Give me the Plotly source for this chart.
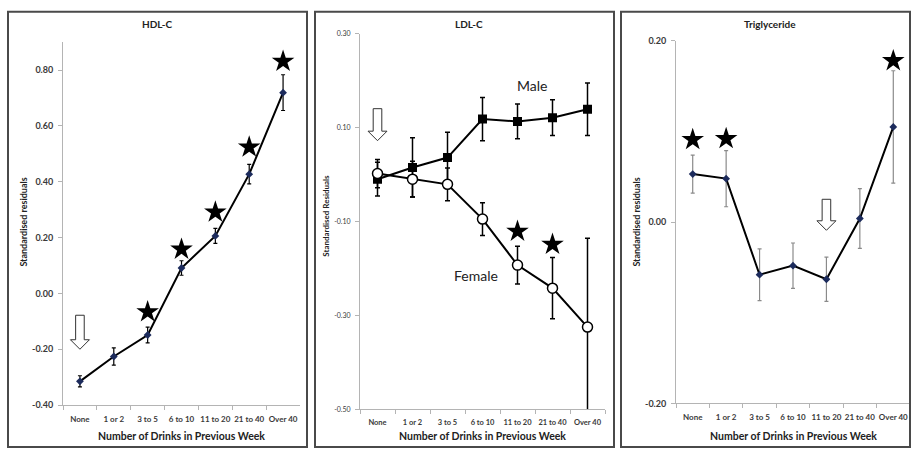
import plotly.graph_objects as go

categories = ["None", "1 or 2", "3 to 5", "6 to 10", "11 to 20", "21 to 40", "Over 40"]

# HDL-C
hdl_values = [-0.315, -0.226, -0.149, 0.091, 0.206, 0.427, 0.719]
hdl_errors = [0.020, 0.031, 0.028, 0.026, 0.027, 0.035, 0.064]
hdl_star_cats = ["3 to 5", "6 to 10", "11 to 20", "21 to 40", "Over 40"]
hdl_star_y = [-0.066, 0.158, 0.291, 0.524, 0.831]
hdl_arrow = ("None", -0.20)
hdl_ticks = [-0.4, -0.2, 0.0, 0.2, 0.4, 0.6, 0.8]
hdl_ticktext = ["-0.40", "-0.20", "0.00", "0.20", "0.40", "0.60", "0.80"]

# LDL-C
ldl_male = [-0.010, 0.015, 0.036, 0.118, 0.113, 0.121, 0.139]
ldl_male_err = [0.036, 0.063, 0.054, 0.046, 0.037, 0.038, 0.056]
ldl_female = [0.002, -0.010, -0.021, -0.095, -0.193, -0.242, -0.325]
ldl_female_err = [0.030, 0.038, 0.035, 0.035, 0.040, 0.065, 0.189]
ldl_star_cats = ["11 to 20", "21 to 40"]
ldl_star_y = [-0.121, -0.149]
ldl_arrow = ("None", 0.072)
ldl_ticks = [-0.5, -0.3, -0.1, 0.1, 0.3]
ldl_ticktext = ["-0.50", "-0.30", "-0.10", "0.10", "0.30"]

# Triglyceride
tg_values = [0.053, 0.048, -0.058, -0.048, -0.063, 0.004, 0.105]
tg_errors = [0.021, 0.031, 0.0285, 0.025, 0.0245, 0.033, 0.062]
tg_star_cats = ["None", "1 or 2", "Over 40"]
tg_star_y = [0.091, 0.092, 0.178]
tg_arrow = ("11 to 20", -0.009)
tg_ticks = [-0.2, 0.0, 0.2]
tg_ticktext = ["-0.20", "0.00", "0.20"]

W, H = 913, 454
FONT = "Lato"
AX_COL = "#b4b4b4"
TXT = "#3a3a3a"
STAR = 17

fig = go.Figure()

# ---- HDL ----
fig.add_trace(go.Scatter(
    x=categories, y=hdl_values, mode="lines+markers", xaxis="x", yaxis="y",
    line=dict(color="black", width=2),
    marker=dict(symbol="diamond", size=6, color="#1c2b5c"),
    error_y=dict(type="data", array=hdl_errors, color="black", thickness=1.2, width=2),
    showlegend=False))
fig.add_trace(go.Scatter(
    x=hdl_star_cats, y=hdl_star_y, mode="markers", xaxis="x", yaxis="y",
    marker=dict(symbol="star", size=STAR, color="black"), showlegend=False))

# ---- LDL ----
fig.add_trace(go.Scatter(
    x=categories, y=ldl_male, mode="lines+markers", xaxis="x2", yaxis="y2",
    line=dict(color="black", width=2),
    marker=dict(symbol="square", size=9, color="black"),
    error_y=dict(type="data", array=ldl_male_err, color="black", thickness=1.5, width=2.5),
    showlegend=False))
fig.add_trace(go.Scatter(
    x=categories, y=ldl_female, mode="lines+markers", xaxis="x2", yaxis="y2",
    line=dict(color="black", width=2),
    marker=dict(symbol="circle", size=10, color="white", line=dict(color="black", width=1.5)),
    error_y=dict(type="data", array=ldl_female_err, color="black", thickness=1.5, width=2.5),
    showlegend=False))
fig.add_trace(go.Scatter(
    x=ldl_star_cats, y=ldl_star_y, mode="markers", xaxis="x2", yaxis="y2",
    marker=dict(symbol="star", size=STAR, color="black"), showlegend=False))

# ---- Triglyceride ----
fig.add_trace(go.Scatter(
    x=categories, y=tg_values, mode="lines+markers", xaxis="x3", yaxis="y3",
    line=dict(color="black", width=2),
    marker=dict(symbol="diamond", size=6, color="#1c2b5c"),
    error_y=dict(type="data", array=tg_errors, color="#8a8a8a", thickness=1.2, width=2),
    showlegend=False))
fig.add_trace(go.Scatter(
    x=tg_star_cats, y=tg_star_y, mode="markers", xaxis="x3", yaxis="y3",
    marker=dict(symbol="star", size=STAR, color="black"), showlegend=False))

# pixel-based geometry of the three plot areas
panels = [
    dict(x0=63, x1=300, y0=37, y1=409, rng=[-0.4, 0.9], ticks=hdl_ticks, tt=hdl_ticktext,
         ytf=9, ytb=700, xtf=8),
    dict(x0=360, x1=605, y0=28.3, y1=413.3, rng=[-0.5, 0.3], ticks=ldl_ticks, tt=ldl_ticktext,
         ytf=7, ytb=400, xtf=7.5),
    dict(x0=676, x1=910, y0=35.7, y1=407.3, rng=[-0.2, 0.2], ticks=tg_ticks, tt=tg_ticktext,
         ytf=9, ytb=700, xtf=8),
]
layout = dict(width=W, height=H, margin=dict(l=0, r=0, t=0, b=0),
              paper_bgcolor="white", plot_bgcolor="white",
              font=dict(family=FONT, color=TXT))
for i, p in enumerate(panels):
    sfx = "" if i == 0 else str(i + 1)
    layout["xaxis" + sfx] = dict(
        domain=[p["x0"] / W, p["x1"] / W], anchor="y" + sfx, type="category",
        categoryorder="array", categoryarray=categories, range=[-0.5, 6.5],
        showline=True, linecolor=AX_COL, linewidth=1, showgrid=False, zeroline=False,
        ticks="outside", tickson="boundaries", ticklen=4, tickcolor=AX_COL, tickangle=0,
        ticklabelstandoff=6,
        tickfont=dict(family=FONT, size=p["xtf"], color=TXT, weight=700), fixedrange=True)
    layout["yaxis" + sfx] = dict(
        domain=[1 - p["y1"] / H, 1 - p["y0"] / H], anchor="x" + sfx, range=p["rng"],
        showline=True, linecolor=AX_COL, linewidth=1, showgrid=False, zeroline=False,
        tickvals=p["ticks"], ticktext=p["tt"], ticks="outside", ticklen=4, tickcolor=AX_COL,
        ticklabelstandoff=3,
        tickfont=dict(family=FONT, size=p["ytf"], color=TXT, weight=p["ytb"]), fixedrange=True)
fig.update_layout(**layout)

# panel borders
borders = [(8, 307), (315, 614), (621, 910)]
shapes = []
for bx0, bx1 in borders:
    shapes.append(dict(type="rect", xref="paper", yref="paper",
                       x0=bx0 / W, x1=bx1 / W, y0=1 - 452 / H, y1=1 - 6 / H,
                       line=dict(color="#4a4a4a", width=2), fillcolor="rgba(0,0,0,0)"))

# hollow block arrows (pixel-sized, anchored at arrow tip)
def arrow_path(hh, hw, sw, total):
    return (f"M0,0 L{-hw},{hh} L{-sw},{hh} L{-sw},{total} L{sw},{total} "
            f"L{sw},{hh} L{hw},{hh} Z")

for (cat, ytip), sfx, total in [(hdl_arrow, "", 34), (ldl_arrow, "2", 32), (tg_arrow, "3", 31)]:
    shapes.append(dict(type="path", xref="x" + sfx, yref="y" + sfx,
                       xsizemode="pixel", ysizemode="pixel",
                       xanchor=categories.index(cat), yanchor=ytip,
                       path=arrow_path(9.5, 9.5, 4.3, total),
                       line=dict(color="#333", width=1), fillcolor="white"))
fig.update_layout(shapes=shapes)

ann = []
titles = [("HDL-C", 157), ("LDL-C", 469), ("Triglyceride", 770)]
for t, cx in titles:
    ann.append(dict(text=t, x=cx / W, y=1 - 18 / H, xref="paper", yref="paper",
                    showarrow=False, xanchor="center", yanchor="middle",
                    font=dict(family=FONT, size=10, color="#222", weight=700)))
for p in panels:
    ann.append(dict(text="Number of Drinks in Previous Week", x=(p["x0"] + p["x1"]) / 2 / W,
                    y=1 - 441 / H, xref="paper", yref="paper", showarrow=False,
                    xanchor="center", yanchor="middle",
                    font=dict(family=FONT, size=10.5, color="#222", weight=700)))
ytitles = [("Standardised residuals", 24, 222, 9), ("Standardised Residuals", 326, 215, 8),
           ("Standardised residuals", 637, 222, 9)]
for t, px, py, fs in ytitles:
    ann.append(dict(text=t, x=px / W, y=1 - py / H, xref="paper", yref="paper",
                    showarrow=False, textangle=-90, xanchor="center", yanchor="middle",
                    font=dict(family=FONT, size=fs, color="#222", weight=700)))
ann.append(dict(text="Male", x=4.41, y=0.189, xref="x2", yref="y2", showarrow=False,
                font=dict(family=FONT, size=14, color="#222")))
ann.append(dict(text="Female", x=2.81, y=-0.215, xref="x2", yref="y2", showarrow=False,
                font=dict(family=FONT, size=14, color="#222")))
fig.update_layout(annotations=ann)

fig.write_html("out.html")
